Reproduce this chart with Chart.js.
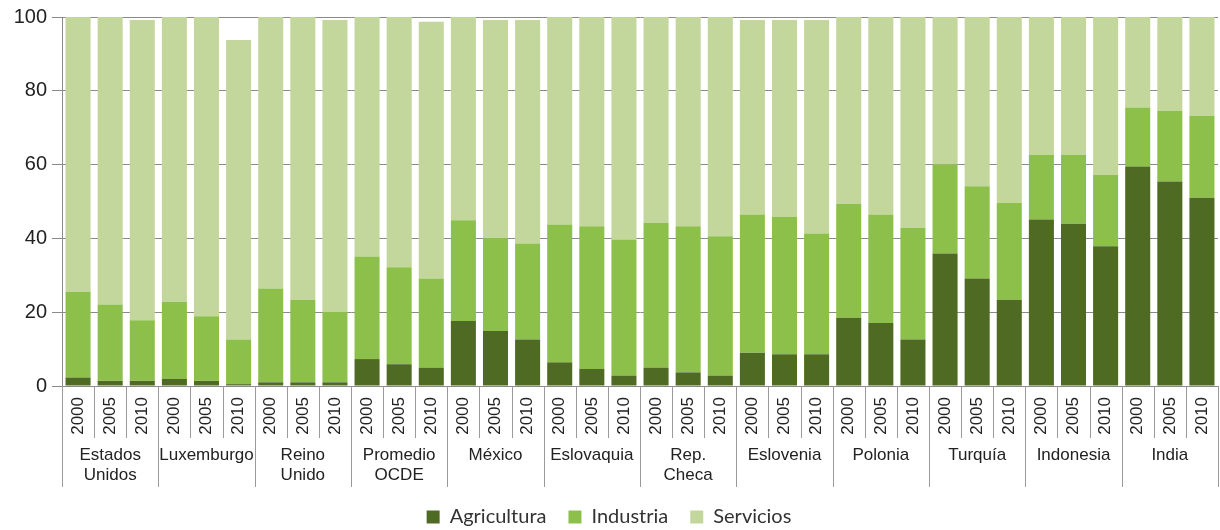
<!DOCTYPE html>
<html>
<head>
<meta charset="utf-8">
<script src="https://cdn.jsdelivr.net/npm/chart.js@4/dist/chart.umd.min.js"></script>
<style>
  html, body { margin: 0; padding: 0; background: #fff; }
  #wrap { width: 1220px; height: 530px; }
</style>
</head>
<body>
<div id="wrap"><canvas id="chart"></canvas></div>
<script>
// countries (groups) and years
const countries = [['Estados', 'Unidos'], 'Luxemburgo', ['Reino', 'Unido'], ['Promedio', 'OCDE'], 'México',
  'Eslovaquia', ['Rep.', 'Checa'], 'Eslovenia', 'Polonia', 'Turquía', 'Indonesia', 'India'];
const years = ['2000', '2005', '2010'];

// share of employment (%), 3 years per country
const agricultura = [2.3, 1.4, 1.4, 1.9, 1.4, 0.5, 1.0, 1.0, 1.0, 7.3, 5.9, 4.9,
  17.6, 14.9, 12.6, 6.4, 4.6, 2.8, 5.0, 3.7, 2.8, 9.0, 8.6, 8.6,
  18.5, 17.1, 12.6, 35.9, 29.1, 23.4, 45.1, 44.0, 37.9, 59.5, 55.4, 51.0];
const industria = [23.2, 20.7, 16.4, 20.9, 17.5, 12.1, 25.4, 22.4, 19.1, 27.8, 26.3, 24.2,
  27.3, 25.3, 26.0, 37.4, 38.7, 36.9, 39.2, 39.6, 37.8, 37.5, 37.2, 32.7,
  30.9, 29.4, 30.2, 24.1, 25.0, 26.2, 17.5, 18.6, 19.3, 16.0, 19.2, 22.2];
const servicios = [74.5, 77.9, 81.4, 77.2, 81.1, 81.2, 73.6, 76.6, 79.1, 64.9, 67.8, 69.6,
  55.1, 59.0, 60.6, 56.2, 56.7, 60.3, 55.8, 56.7, 59.4, 52.7, 53.4, 57.9,
  50.6, 53.5, 57.2, 40.0, 45.9, 50.4, 37.4, 37.4, 42.8, 24.5, 25.4, 26.8];
const yTicks = [0, 20, 40, 60, 80, 100];

const labels = [];
countries.forEach(() => years.forEach(y => labels.push(y)));

// vertical separators under the axis: short between years, long between countries
const separators = {
  id: 'separators',
  afterDraw(chart) {
    const x = chart.scales.x, x2 = chart.scales.x2, ctx = chart.ctx;
    const area = chart.chartArea;
    ctx.save();
    ctx.strokeStyle = '#9a9a9a';
    ctx.lineWidth = 1;
    for (let i = 0; i <= labels.length; i++) {
      let px;
      if (i === 0) px = area.left;
      else if (i === labels.length) px = area.right;
      else px = (x.getPixelForValue(i - 1) + x.getPixelForValue(i)) / 2;
      px = Math.round(px) + 0.5;
      const bottom = (i % years.length === 0) ? x2.bottom + 2 : x.bottom + 2;
      ctx.beginPath();
      ctx.moveTo(px, x.top);
      ctx.lineTo(px, bottom);
      ctx.stroke();
    }
    ctx.restore();
  }
};

const noSidePad = s => { s.paddingLeft = 0; s.paddingRight = 0; };

new Chart(document.getElementById('chart'), {
  type: 'bar',
  data: {
    labels: labels,
    datasets: [
      { label: 'Agricultura', data: agricultura, backgroundColor: '#4f6a22' },
      { label: 'Industria', data: industria, backgroundColor: '#8cc04b' },
      { label: 'Servicios', data: servicios, backgroundColor: '#c3d69b' }
    ]
  },
  options: {
    responsive: true,
    maintainAspectRatio: false,
    animation: false,
    barPercentage: 0.78,
    categoryPercentage: 1,
    layout: { autoPadding: false, padding: { top: 16, right: 2, left: 0, bottom: -7 } },
    plugins: {
      tooltip: { enabled: false },
      legend: {
        position: 'bottom',
        labels: {
          boxWidth: 13, boxHeight: 13, padding: 22,
          color: '#333', font: { family: 'Lato', size: 20 }
        }
      }
    },
    scales: {
      x: {
        stacked: true,
        grid: { display: false, drawTicks: false },
        border: { color: '#8a8a8a' },
        ticks: {
          autoSkip: false, minRotation: 90, maxRotation: 90, padding: 11,
          color: '#222', font: { family: 'Liberation Sans', size: 17 }
        },
        afterFit: s => { s.height = 50; noSidePad(s); }
      },
      x2: {
        type: 'category',
        position: 'bottom',
        labels: countries,
        offset: true,
        grid: { display: false, drawTicks: false },
        border: { display: false },
        ticks: {
          autoSkip: false, maxRotation: 0, padding: 9,
          color: '#222', font: { family: 'Liberation Sans', size: 17, lineHeight: 1.18 }
        },
        afterFit: s => { s.height = 49; noSidePad(s); }
      },
      y: {
        stacked: true,
        min: 0,
        max: 100,
        afterBuildTicks: s => { s.ticks = yTicks.map(v => ({ value: v })); },
        grid: { color: '#8a8a8a', tickLength: 10 },
        border: { color: '#8a8a8a' },
        ticks: { padding: 5, color: '#222', font: { family: 'Liberation Sans', size: 20 } },
        afterFit: s => { s.width = 62; }
      }
    }
  },
  plugins: [separators]
});
</script>
</body>
</html>
